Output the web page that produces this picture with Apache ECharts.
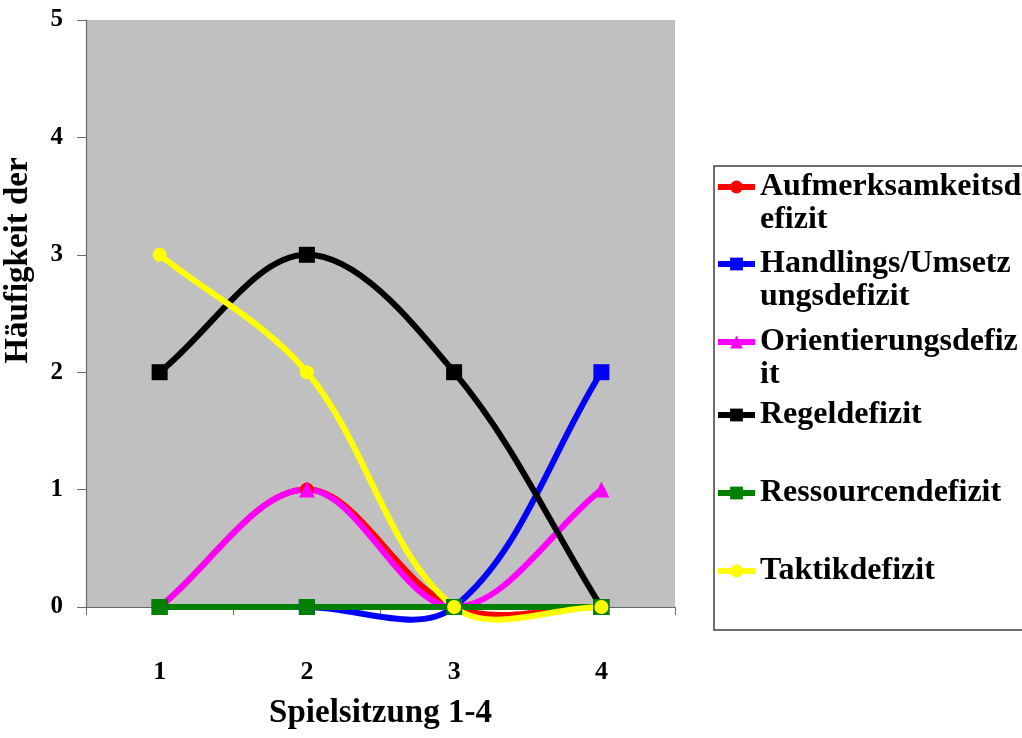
<!DOCTYPE html>
<html>
<head>
<meta charset="utf-8">
<script src="https://cdn.jsdelivr.net/npm/echarts@6/dist/echarts.min.js"></script>
<style>
  html, body { margin: 0; padding: 0; background: #ffffff; }
  #chart { width: 1022px; height: 738px; }
</style>
</head>
<body>
<div id="chart"></div>
<script>
// Spielsitzungen (x categories)
const sessions = ['1', '2', '3', '4'];

// Häufigkeit je Defizit-Art pro Spielsitzung
const aufmerksamkeit = [0, 1, 0, 0];
const handlung = [0, 0, 0, 2];
const orientierung = [0, 1, 0, 1];
const regel = [2, 3, 2, 0];
const ressourcen = [0, 0, 0, 0];
const taktik = [3, 2, 0, 0];

const seriesNames = [
  'Aufmerksamkeitsdefizit',
  'Handlings/Umsetzungsdefizit',
  'Orientierungsdefizit',
  'Regeldefizit',
  'Ressourcendefizit',
  'Taktikdefizit'
];
// legend texts as wrapped in the legend box
const legendLabels = [
  ['Aufmerksamkeitsd', 'efizit'],
  ['Handlings/Umsetz', 'ungsdefizit'],
  ['Orientierungsdefiz', 'it'],
  ['Regeldefizit'],
  ['Ressourcendefizit'],
  ['Taktikdefizit']
];
const seriesValues = [aufmerksamkeit, handlung, orientierung, regel, ressourcen, taktik];
const seriesColors = ['#FF0000', '#0000FF', '#FF00FF', '#000000', '#008000', '#FFFF00'];
const seriesSymbols = ['circle', 'rect', 'triangle', 'rect', 'rect', 'circle'];
const symbolSizes = [14, 16, 16, 16, 16, 14];

const FONT = "'Liberation Serif', 'Times New Roman', serif";
const LINE_H = 33;
const LINE_W = 6;
const SMOOTH = 0.35;
const legendIconCenters = [187, 264, 342, 415, 493, 571];

// Smoothed curve: cubic Bezier segments whose control points follow the
// neighbouring points (weighted by segment length), allowing overshoot.
function controlPoints(prev, p, next) {
  const vx = next[0] - prev[0];
  const vy = next[1] - prev[1];
  const l0 = Math.hypot(p[0] - prev[0], p[1] - prev[1]);
  const l1 = Math.hypot(next[0] - p[0], next[1] - p[1]);
  const tot = (l0 + l1) || 1;
  return {
    before: [p[0] - vx * SMOOTH * l0 / tot, p[1] - vy * SMOOTH * l0 / tot],
    after: [p[0] + vx * SMOOTH * l1 / tot, p[1] + vy * SMOOTH * l1 / tot]
  };
}

function curveRenderer(values, color) {
  const n = values.length;
  return function (params, api) {
    const j = params.dataIndex;
    if (j >= n - 1) return null;
    const pt = function (k) {
      const kk = Math.max(0, Math.min(n - 1, k));
      return api.coord([kk, values[kk]]);
    };
    const p0 = pt(j - 1), p1 = pt(j), p2 = pt(j + 1), p3 = pt(j + 2);
    const c1 = controlPoints(p0, p1, p2).after;
    const c2 = controlPoints(p1, p2, p3).before;
    return {
      type: 'bezierCurve',
      shape: {
        x1: p1[0], y1: p1[1], x2: p2[0], y2: p2[1],
        cpx1: c1[0], cpy1: c1[1], cpx2: c2[0], cpy2: c2[1]
      },
      style: { stroke: color, lineWidth: LINE_W, fill: null, lineCap: 'round' },
      silent: true
    };
  };
}

const chart = echarts.init(document.getElementById('chart'), null, { renderer: 'canvas' });

const legends = seriesNames.map(function (name, i) {
  const lines = legendLabels[i];
  // an empty leading line keeps the icon level with the first text line
  const text = lines.length > 1 ? '\n' + lines.join('\n') : lines[0];
  return {
    show: true,
    orient: 'vertical',
    left: 715,
    top: legendIconCenters[i] - (lines.length > 1 ? 1.5 * LINE_H : 0.5 * LINE_H),
    padding: 0,
    itemWidth: 37,
    itemHeight: 16,
    itemGap: 0,
    selectedMode: false,
    data: [name],
    formatter: function () { return text; },
    lineStyle: { width: LINE_W },
    textStyle: {
      fontFamily: FONT,
      fontWeight: 'bold',
      fontSize: 32,
      lineHeight: LINE_H,
      color: '#000000'
    }
  };
});

const series = [];
seriesNames.forEach(function (name, i) {
  series.push({
    type: 'custom',
    coordinateSystem: 'cartesian2d',
    data: seriesValues[i].map(function (v, k) { return [k, v]; }),
    encode: { x: 0, y: 1 },
    renderItem: curveRenderer(seriesValues[i], seriesColors[i]),
    clip: false,
    silent: true,
    z: 2
  });
  series.push({
    name: name,
    type: 'line',
    data: seriesValues[i],
    clip: false,
    symbol: seriesSymbols[i],
    symbolSize: symbolSizes[i],
    showAllSymbol: true,
    color: seriesColors[i],
    lineStyle: { width: 0, color: seriesColors[i] },
    itemStyle: { color: seriesColors[i] },
    emphasis: { disabled: true },
    silent: true,
    z: 2
  });
});

chart.setOption({
  animation: false,
  backgroundColor: '#ffffff',
  textStyle: { fontFamily: FONT },
  grid: {
    left: 86,
    top: 20,
    right: 347,
    bottom: 131,
    outerBoundsMode: 'none',
    containLabel: false,
    show: true,
    backgroundColor: '#C0C0C0',
    borderWidth: 0
  },
  graphic: [{
    type: 'rect',
    shape: { x: 714, y: 166, width: 330, height: 464 },
    style: { fill: 'none', stroke: '#404040', lineWidth: 1.5 },
    silent: true,
    z: 0
  }],
  legend: legends,
  xAxis: {
    type: 'category',
    data: sessions,
    boundaryGap: true,
    name: 'Spielsitzung 1-4',
    nameLocation: 'middle',
    nameGap: 90,
    nameTextStyle: { fontFamily: FONT, fontWeight: 'bold', fontSize: 33, color: '#000000' },
    axisLine: { show: true, onZero: false, lineStyle: { color: '#6a6a6a', width: 1.2 } },
    axisTick: { show: true, inside: false, length: 8, lineStyle: { color: '#6a6a6a' } },
    axisLabel: { margin: 52, fontFamily: FONT, fontWeight: 'bold', fontSize: 26, color: '#000000' },
    splitLine: { show: false }
  },
  yAxis: {
    type: 'value',
    min: 0,
    max: 5,
    interval: 1,
    name: 'Häufigkeit der',
    nameLocation: 'middle',
    nameGap: 51,
    nameRotate: 90,
    nameTextStyle: {
      fontFamily: FONT, fontWeight: 'bold', fontSize: 33, color: '#000000',
      padding: [0, 0, 0, 106]
    },
    axisLine: { show: true, lineStyle: { color: '#6a6a6a', width: 1.2 } },
    axisTick: { show: true, inside: false, length: 9, lineStyle: { color: '#6a6a6a' } },
    axisLabel: { margin: 23, fontFamily: FONT, fontWeight: 'bold', fontSize: 25, color: '#000000' },
    splitLine: { show: false }
  },
  series: series
});
</script>
</body>
</html>
